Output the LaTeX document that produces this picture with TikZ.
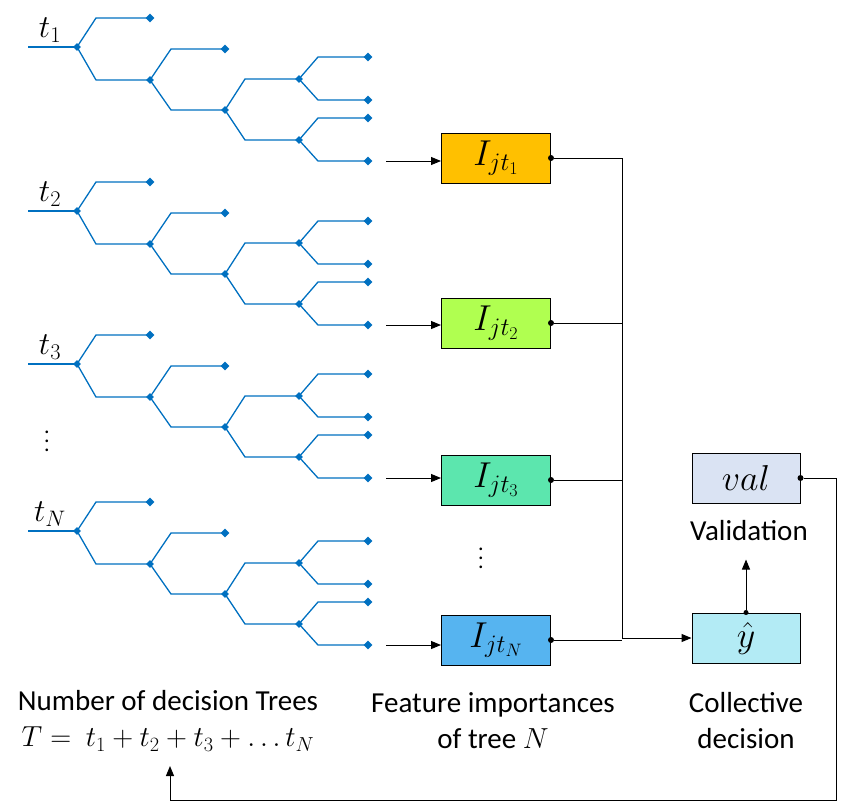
\documentclass[tikz,border=0pt]{standalone}
\usepackage{fix-cm}
\usepackage{graphicx}
\usepackage{fontspec}
\setmainfont{Carlito}
\usetikzlibrary{shapes.geometric}
\usetikzlibrary{arrows.meta}
\definecolor{treeblue}{HTML}{0070C0}
\tikzset{
  br/.style = {treeblue, line width=1.3pt},
  leaf/.style = {diamond, fill=treeblue, inner sep=0pt, minimum size=9pt},
  imp/.style = {draw, line width=1pt, minimum width=109pt, minimum height=50pt, inner sep=0pt, font=\fontsize{36}{36}\selectfont},
  lab/.style = {font=\fontsize{29}{36}\selectfont, align=center},
  conn/.style = {line width=1pt},
  arr/.style = {line width=1pt, -{Triangle[length=10pt,width=8pt]}},
  dot/.style = {circle, fill, inner sep=0pt, minimum size=6pt}
}
\begin{document}
\begin{tikzpicture}[x=1pt, y=-1pt]
\useasboundingbox (0,0) rectangle (841,803);
% decision trees
\foreach \k/\dy/\lbl in {1/0/t_1, 2/164/t_2, 3/317/t_3, 4/484/t_N}{
\begin{scope}[yshift=-\dy pt]
\draw[br] (28,47) -- (77,47);
\draw[br] (150,18) -- (96,18) -- (77,47) -- (96,80) -- (150,80);
\draw[br] (225,49) -- (171,49) -- (150,80) -- (171,110) -- (225,110);
\draw[br] (299,79) -- (245,79) -- (225,110) -- (245,140) -- (299,140);
\draw[br] (368,57) -- (318,57) -- (299,79) -- (318,100) -- (368,100);
\draw[br] (368,118) -- (318,118) -- (299,140) -- (318,161) -- (368,161);
\foreach \p in {(77,47),(150,80),(225,110),(299,79),(299,140)}
  \node[leaf, minimum size=8pt] at \p {};
\foreach \p in {(150,18),(225,49),(368,57),(368,100),(368,118)}
  \node[leaf] at \p {};
\node[leaf] (leaf\k) at (368,161) {};
\node[font=\fontsize{32}{32}\selectfont] (t\k) at (50,30) {$\lbl$};
\coordinate (out\k) at (386,161);
\end{scope}
}
\node (vd1) at (47,435) {\scalebox{2.2}{$\vdots$}};

% feature importances
\node[imp, fill={rgb,255:red,255;green,192;blue,0}] (i1) at (496,158) {$I_{jt_1}$};
\node[imp, fill={rgb,255:red,176;green,255;blue,80}] (i2) at (496,323) {$I_{jt_2}$};
\node[imp, fill={rgb,255:red,92;green,230;blue,174}] (i3) at (496,480) {$I_{jt_3}$};
\node[imp, fill={rgb,255:red,86;green,180;blue,240}] (i4) at (496,640) {$I_{jt_N}$};
\node (vd2) at (481,552) {\scalebox{2.2}{$\vdots$}};
\foreach \k in {1,...,4}{
  \draw[arr] (out\k) -- (out\k -| i\k.west);
  \node[dot] (d\k) at (i\k.east) {};
}
\coordinate (bus) at (622,158);
\coordinate (busend) at (622,638);
\draw[conn] (d1) -| (bus) -- (busend);
\foreach \k in {2,3,4}
  \draw[conn] (d\k) -- (d\k -| bus);

% decision and validation
\node[imp, fill={rgb,255:red,179;green,235;blue,245}, minimum width=108pt] (yhat) at (746,638) {$\hat{y}$};
\node[imp, fill={rgb,255:red,218;green,227;blue,243}, minimum width=108pt] (val) at (746,478) {$val$};
\draw[arr] (busend) -- (yhat.west);
\node[lab] (valtxt) at (749,531) {Validation};
\node[dot, minimum size=5pt] (ytop) at (yhat.north) {};
\draw[arr] (ytop) -- ++(0,-53);
\node[dot] (vdot) at (val.east) {};
\coordinate (c1) at (836,478);
\coordinate (c2) at (836,800);
\coordinate (c3) at (170,800);
\coordinate (c4) at (170,766);
\draw[conn] (vdot) -- (c1) -- (c2) -- (c3);
\draw[arr] (c3) -- (c4);

% captions
\node[lab] (cap1) at (168,721) {Number of decision Trees\\$T =\ t_1+t_2+t_3+\ldots t_N$};
\node[lab] (cap2) at (493,721) {Feature importances\\of tree $N$};
\node[lab] (cap3) at (746,721) {Collective\\decision};
\end{tikzpicture}
\end{document}
